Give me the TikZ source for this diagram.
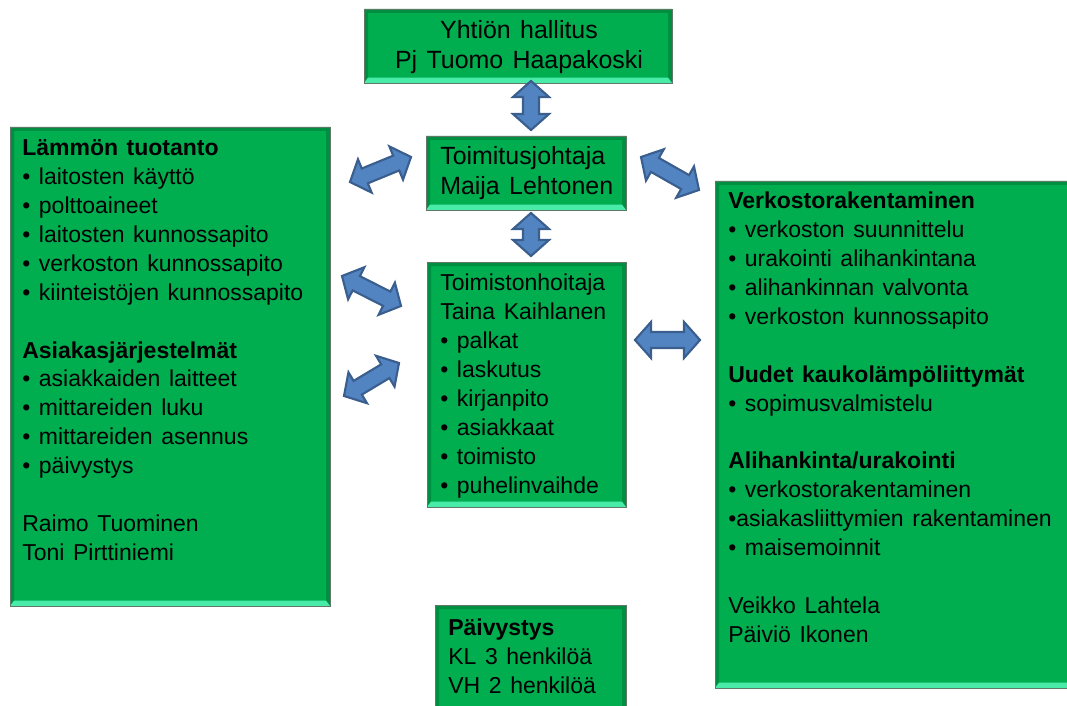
\documentclass[tikz,border=0pt]{standalone}
\usepackage{fontspec}
\setmainfont{Liberation Sans}[WordSpace=1.35]
\usetikzlibrary{calc,fit}
\definecolor{boxgreen}{RGB}{0,174,80}
\definecolor{boxrim}{RGB}{96,120,104}
\definecolor{bevdark}{RGB}{0,142,64}
\definecolor{bevlight}{RGB}{72,236,168}
\definecolor{arrowfill}{RGB}{82,132,194}
\definecolor{arrowrim}{RGB}{58,94,142}
\tikzset{
  unitbox/.style={draw=boxrim, line width=0.6pt, fill=boxgreen, inner sep=0pt,
    path picture={
      \path (path picture bounding box.south west) coordinate (bsw)
            (path picture bounding box.south east) coordinate (bse)
            (path picture bounding box.north west) coordinate (bnw)
            (path picture bounding box.north east) coordinate (bne);
      \fill[bevdark] (bsw) -- (bnw) -- (bne) -- (bse) -- ([shift={(-3pt,4pt)}]bse)
        -- ([shift={(-3pt,-3pt)}]bne) -- ([shift={(3pt,-3pt)}]bnw) -- ([shift={(3pt,4pt)}]bsw) -- cycle;
      \fill[bevlight] (bsw) -- (bse) -- ([shift={(-3pt,4pt)}]bse) -- ([shift={(3pt,4pt)}]bsw) -- cycle;
    }},
  unittext/.style={inner sep=0pt, align=left, font=\fontsize{17.25}{21.7}\selectfont},
  headtext/.style={unittext, font=\fontsize{18.7}{22.5}\selectfont},
  arrowbody/.style={fill=arrowfill, draw=arrowrim, line width=1.6pt, line join=miter}
}
\newcommand\twoway[2]{%
\coordinate (twa) at ($(#1)!12pt!(#2)$);
\coordinate (twb) at ($(#2)!12pt!(#1)$);
\filldraw[arrowbody] (#1) -- ($(twa)!13.5pt!90:(#2)$) -- ($(twa)!6pt!90:(#2)$)
  -- ($(twb)!6pt!-90:(#1)$) -- ($(twb)!13.5pt!-90:(#1)$) -- (#2)
  -- ($(twb)!13.5pt!90:(#1)$) -- ($(twb)!6pt!90:(#1)$)
  -- ($(twa)!6pt!-90:(#2)$) -- ($(twa)!13.5pt!-90:(#2)$) -- cycle;}
\begin{document}
\begin{tikzpicture}[x=0.75pt,y=0.75pt]
\clip (0,0) rectangle (1067,-706);
\node[unitbox, fit={(364,-9) (672,-83)}] (board) {};
\node[unitbox, fit={(426,-136) (626,-210)}] (ceo) {};
\node[unitbox, fit={(427,-262) (626,-507)}] (office) {};
\node[unitbox, fit={(10,-127) (330,-606)}] (heat) {};
\node[unitbox, fit={(715,-181) (1080,-688)}] (network) {};
\node[unitbox, fit={(435,-605) (626,-720)}] (duty) {};
\node[headtext, anchor=north, align=center] (boardtext) at (519,-17.5) {\strut Yhtiön hallitus\\Pj Tuomo Haapakoski};
\node[headtext, anchor=north west] (ceotext) at (440,-143.5) {\strut Toimitusjohtaja\\Maija Lehtonen};
\node[unittext, anchor=north west] (officetext) at (440,-270) {\strut Toimistonhoitaja\\Taina Kaihlanen\\• palkat\\• laskutus\\• kirjanpito\\• asiakkaat\\• toimisto\\• puhelinvaihde};
\node[unittext, anchor=north west] (heattext) at (22,-135) {\strut\textbf{Lämmön tuotanto}\\• laitosten käyttö\\• polttoaineet\\• laitosten kunnossapito\\• verkoston kunnossapito\\• kiinteistöjen kunnossapito\\[\baselineskip]\textbf{Asiakasjärjestelmät}\\• asiakkaiden laitteet\\• mittareiden luku\\• mittareiden asennus\\• päivystys\\[\baselineskip]Raimo Tuominen\\Toni Pirttiniemi};
\node[unittext, anchor=north west] (networktext) at (728,-188) {\strut\textbf{Verkostorakentaminen}\\• verkoston suunnittelu\\• urakointi alihankintana\\• alihankinnan valvonta\\• verkoston kunnossapito\\[\baselineskip]\textbf{Uudet kaukolämpöliittymät}\\• sopimusvalmistelu\\[\baselineskip]\textbf{Alihankinta/urakointi}\\• verkostorakentaminen\\•asiakasliittymien rakentaminen\\• maisemoinnit\\[\baselineskip]Veikko Lahtela\\Päiviö Ikonen};
\node[unittext, anchor=north west] (dutytext) at (448,-615) {\strut\textbf{Päivystys}\\KL 3 henkilöä\\VH 2 henkilöä};
\coordinate (v1a) at (531,-81);
\coordinate (v1b) at (531,-130);
\coordinate (v2a) at (531,-213);
\coordinate (v2b) at (531,-256);
\coordinate (l1a) at (350,-182);
\coordinate (l1b) at (411,-157);
\coordinate (l2a) at (342,-276);
\coordinate (l2b) at (401,-306);
\coordinate (l3a) at (344,-396);
\coordinate (l3b) at (399,-363);
\coordinate (r1a) at (641,-157);
\coordinate (r1b) at (699,-190);
\coordinate (r2a) at (635,-340);
\coordinate (r2b) at (700,-340);
\twoway{v1a}{v1b}
\twoway{v2a}{v2b}
\twoway{l1a}{l1b}
\twoway{l2a}{l2b}
\twoway{l3a}{l3b}
\twoway{r1a}{r1b}
\twoway{r2a}{r2b}
\end{tikzpicture}
\end{document}
